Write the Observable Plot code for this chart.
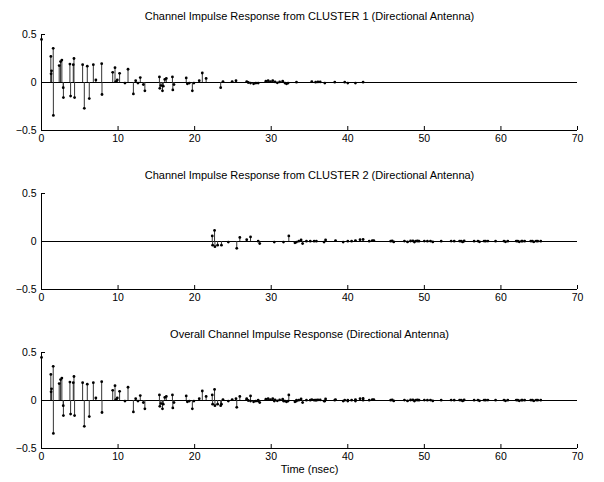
<!DOCTYPE html>
<html>
<head>
<meta charset="utf-8">
<script src="https://cdn.jsdelivr.net/npm/d3@7"></script>
<script src="https://cdn.jsdelivr.net/npm/@observablehq/plot@0.6"></script>
<style>
  html, body { margin: 0; padding: 0; background: #fff; }
  #chart { width: 604px; height: 482px; }
  #chart svg { display: block; }
</style>
</head>
<body>
<div id="chart"></div>
<script>
// ---- Data (time in nsec, amplitude) ----
const titles = [
  "Channel Impulse Response from CLUSTER 1 (Directional Antenna)",
  "Channel Impulse Response from CLUSTER 2 (Directional Antenna)",
  "Overall Channel Impulse Response (Directional Antenna)"
];
const xLabel = "Time (nsec)";
const xTicks = [0, 10, 20, 30, 40, 50, 60, 70];
const yTicks = [-0.5, 0, 0.5];
const yTickLabels = ["\u22120.5", "0", "0.5"];

const cluster1Time = [
  0, 1.22, 1.25, 1.31, 1.53, 1.55, 2.31, 2.49, 2.66, 2.84, 2.86, 3.71, 3.8, 4.15, 4.24, 4.32,
  5.37, 5.59, 5.98, 6.24, 6.77, 7.1, 7.86, 7.9, 9.3, 9.6, 9.7, 9.9, 10.2, 10.9, 11.3, 12.0,
  12.3, 12.6, 12.9, 13.3, 13.5, 15.4, 15.45, 15.6, 15.8, 15.9, 16.1, 16.3, 17.1, 17.15, 17.3,
  18.9, 19.05, 19.3, 19.7, 19.9, 20.6, 21.0, 21.5, 23.4, 23.7, 24.9, 25.4,
  26.8, 27.0, 27.3, 27.7, 28.0, 28.3, 29.3, 29.6, 29.9, 30.2, 30.5, 30.8, 31.1, 31.5, 31.8,
  32.0, 32.2, 33.3, 35.3, 35.8, 36.1, 36.4, 37.0, 38.3, 39.6, 40.0, 41.0, 42.0
];
const cluster1Value = [
  0.449, 0.272, 0.09, 0.122, 0.356, -0.343, 0.176, 0.218, 0.234, -0.054, -0.157, 0.192, -0.141, 0.186, 0.25, -0.157,
  0.186, -0.269, 0.17, -0.167, 0.186, 0.026, 0.196, -0.125, 0.106, 0.154, 0.01, 0.026, 0.096, -0.006, 0.138, -0.119,
  0.019, -0.006, 0.051, -0.022, -0.087, 0.058, -0.061, -0.032, -0.087, -0.038, 0.032, 0.042, 0.058, -0.077, -0.022,
  0.048, -0.013, -0.006, -0.087, -0.006, 0.019, 0.099, 0.042, -0.054, 0.01, 0.01, 0.019,
  0.01, 0.0, -0.006, -0.013, -0.006, -0.006, 0.013, 0.019, 0.01, 0.019, 0.006, -0.003, 0.006, 0.013, -0.006,
  -0.013, -0.006, 0.003, 0.01, 0.003, 0.006, 0.006, -0.006, 0.003, 0.003, -0.006, -0.006, 0.003
];

const cluster2Time = [
  22.3, 22.35, 22.6, 22.65, 23.0, 23.5, 24.4, 25.5, 25.9, 26.8, 27.3, 28.3, 28.5, 30.4, 31.6,
  32.3, 33.1, 33.3, 33.6, 33.9, 34.1, 34.6, 35.1, 35.6, 35.9, 36.9, 37.1, 38.4, 39.4, 40.0,
  40.5, 41.0, 41.6, 42.0, 42.8, 43.2, 43.4, 45.6, 45.8, 46.0, 47.4, 47.8, 48.2, 48.5, 48.7,
  48.9, 49.1, 49.3, 50.0, 50.4, 50.8, 51.1, 52.2, 53.5, 53.9, 54.6, 54.8, 55.0, 55.2, 56.5,
  57.0, 57.2, 57.8, 58.0, 58.3, 59.3, 60.4, 60.6, 60.9, 62.0, 62.2, 62.4, 62.7, 62.8, 63.1,
  63.9, 64.1, 64.3, 64.6, 64.8, 65.2
];
const cluster2Value = [
  0.058, -0.038, 0.115, -0.054, -0.038, -0.038, -0.006, -0.071, 0.042, 0.019, 0.048, 0.003, -0.022, -0.006, -0.006,
  0.058, -0.013, -0.006, 0.003, 0.016, -0.022, 0.003, 0.003, 0.003, 0.003, -0.006, 0.016, 0.01, -0.006, 0.003,
  0.003, 0.01, 0.019, 0.022, 0.003, 0.01, 0.01, 0.003, 0.006, -0.004, 0.004, -0.004, 0.005, 0.006, -0.005,
  0.004, 0.005, 0.003, 0.004, 0.003, 0.004, -0.004, 0.003, 0.004, 0.003, 0.004, 0.003, -0.004, 0.005, 0.003,
  0.004, -0.003, 0.004, 0.003, 0.004, 0.003, 0.004, -0.003, 0.003, 0.004, 0.003, -0.003, 0.004, 0.003, 0.003,
  0.004, 0.003, -0.003, 0.004, 0.003, 0.003
];

// ---- Build tables ----
const toRows = (ts, vs) => ts.map((t, i) => ({t, v: vs[i]}));
const c1 = toRows(cluster1Time, cluster1Value);
const c2 = toRows(cluster2Time, cluster2Value);
const overall = c1.concat(c2);

const W = 604;
const ML = 41, MR = 27;
const PH = 96; // plot area height
const font = "'Liberation Sans', Arial, Helvetica, sans-serif";

function panel(data, title, opts) {
  const {mt, mb, withXLabel} = opts;
  const marks = [
    Plot.ruleY([0], {stroke: "#000", strokeWidth: 1}),
    Plot.ruleX(data, {x: "t", y1: 0, y2: "v", stroke: "#333", strokeWidth: 1}),
    Plot.dot(data, {x: "t", y: "v", r: 1.4, fill: "#000", stroke: "none"}),
    Plot.ruleX([0], {stroke: "#000", strokeWidth: 1}),
    Plot.ruleY([-0.5], {stroke: "#000", strokeWidth: 1}),
    Plot.tickX(xTicks, {x: d => d, stroke: "#000", insetTop: PH - 4}),
    Plot.tickY(yTicks, {y: d => d, stroke: "#000", insetRight: (W - ML - MR) - 4}),
    Plot.axisX(xTicks, {tickSize: 0, tickPadding: 4, fontSize: 10.5, label: null}),
    Plot.axisY(yTicks, {tickSize: 0, tickPadding: 5, fontSize: 10.5, label: null,
      tickFormat: d => yTickLabels[yTicks.indexOf(d)]}),
    Plot.text([title], {frameAnchor: "top", dy: -22, text: d => d, fontSize: 11, fill: "#000"})
  ];
  if (withXLabel) {
    marks.push(Plot.text([xLabel], {frameAnchor: "bottom", dy: 24, text: d => d, fontSize: 11, fill: "#000"}));
  }
  return Plot.plot({
    width: W,
    height: mt + PH + mb,
    marginLeft: ML,
    marginRight: MR,
    marginTop: mt,
    marginBottom: mb,
    x: {domain: [0, 70]},
    y: {domain: [-0.5, 0.5]},
    style: {fontFamily: font, fontSize: "10.5px", color: "#000", background: "#fff", overflow: "visible"},
    marks
  });
}

const chart = document.getElementById("chart");
chart.append(panel(c1, titles[0], {mt: 34, mb: 29}));
chart.append(panel(c2, titles[1], {mt: 34, mb: 29}));
chart.append(panel(overall, titles[2], {mt: 34, mb: 34, withXLabel: true}));
</script>
</body>
</html>
